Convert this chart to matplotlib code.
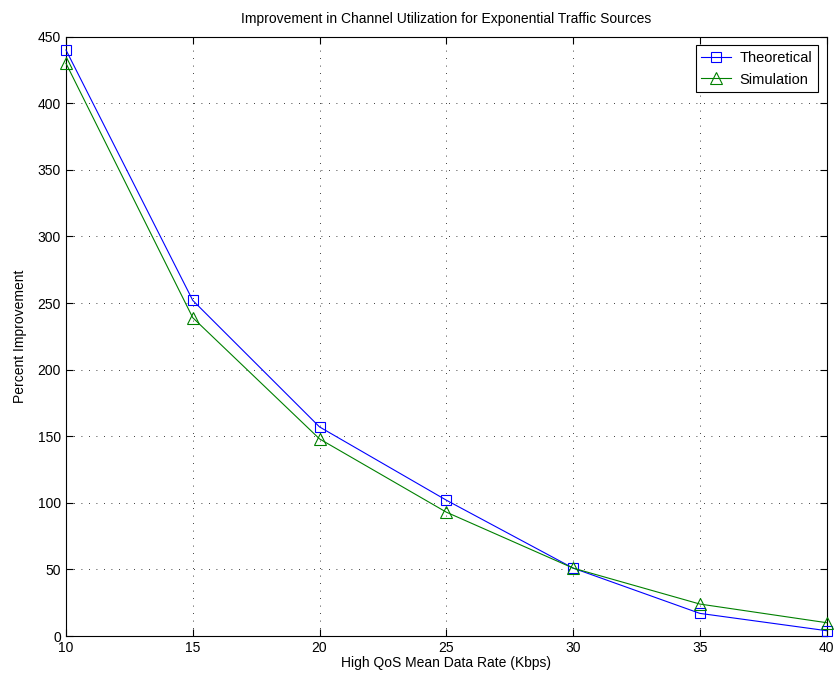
import numpy as np
import matplotlib
matplotlib.use('Agg')
import matplotlib.pyplot as plt

plt.rcParams['font.family'] = ['Liberation Sans', 'DejaVu Sans']

rate = [10, 15, 20, 25, 30, 35, 40]
theoretical = [440, 252, 157, 102, 51, 17, 4]
simulation = [430, 239, 148, 93, 51, 24, 10]

fig = plt.figure(figsize=(8.35, 6.85), dpi=100)
ax = fig.add_axes([0.079, 0.0715, 0.911, 0.875])

ax.plot(rate, theoretical, color='#0000ff', lw=0.8, marker='s', ms=7,
        mfc='none', mew=0.8, label='Theoretical', clip_on=False, zorder=3)
ax.plot(rate, simulation, color='#008000', lw=0.8, marker='^', ms=8,
        mfc='none', mew=0.8, label='Simulation', clip_on=False, zorder=3)

ax.set_xlim(10, 40)
ax.set_ylim(0, 450)
ax.set_xticks(np.arange(10, 41, 5))
ax.set_yticks(np.arange(0, 451, 50))
ax.grid(True, color='black', linestyle=(0, (1, 8)), linewidth=0.6)
ax.tick_params(direction='in', labelsize=10, length=5, top=True, right=True)
for s in ax.spines.values():
    s.set_linewidth(0.8)

ax.set_xlabel('High QoS Mean Data Rate (Kbps)', fontsize=10, labelpad=1)
ax.set_ylabel('Percent Improvement', fontsize=10, labelpad=8)
ax.set_title('Improvement in Channel Utilization for Exponential Traffic Sources', fontsize=10, pad=10)

leg = ax.legend(loc='upper right', fontsize=10.5, fancybox=False, framealpha=1,
                edgecolor='black', borderaxespad=0.6, handlelength=2.0,
                handletextpad=0.6)
leg.get_frame().set_linewidth(0.8)

fig.savefig('out.png', dpi=100)
